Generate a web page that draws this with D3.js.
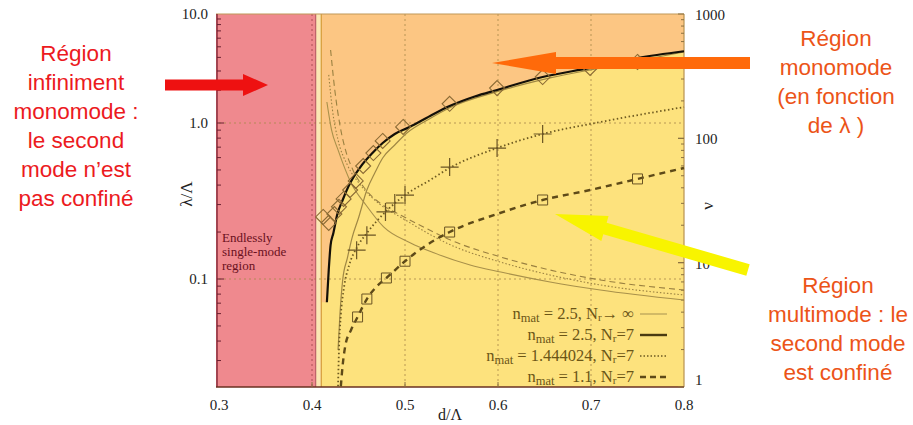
<!DOCTYPE html>
<html><head><meta charset="utf-8">
<script src="https://cdn.jsdelivr.net/npm/d3@7"></script>
<style>body{margin:0;background:#fff}svg{display:block}</style>
</head><body><svg id="c" width="913" height="425"></svg>
<script>
// ---------- data ----------
const xTicks = [0.3, 0.4, 0.5, 0.6, 0.7, 0.8];
const xTickLabels = ["0.3", "0.4", "0.5", "0.6", "0.7", "0.8"];
const yLeftTicks = [0.1, 1, 10];
const yLeftLabels = ["0.1", "1.0", "10.0"];
const yRightTicks = [1, 10, 100, 1000];
const yRightLabels = ["1", "10", "100", "1000"];

// n_mat = 2.5, Nr = 7 (thick black cut-off)
const blackD = [0.416, 0.418, 0.420, 0.423, 0.427, 0.433, 0.441, 0.452, 0.465, 0.476, 0.489, 0.505, 0.527, 0.548, 0.575, 0.599, 0.648, 0.699, 0.750, 0.800];
const blackL = [0.071, 0.114, 0.165, 0.197, 0.257, 0.321, 0.412, 0.522, 0.642, 0.744, 0.850, 0.943, 1.16, 1.43, 1.75, 2.01, 2.64, 3.20, 3.94, 4.55];
// n_mat = 2.5, Nr -> infinity (thin rising)
const infD = [0.428, 0.430, 0.433, 0.438, 0.443, 0.450, 0.459, 0.468, 0.476, 0.489, 0.502, 0.527, 0.548, 0.602, 0.656, 0.710, 0.800];
const infL = [0.035, 0.0588, 0.0986, 0.136, 0.183, 0.246, 0.372, 0.485, 0.597, 0.723, 0.863, 1.10, 1.38, 1.97, 2.59, 3.20, 4.48];
// n_mat = 1.444024, Nr = 7 (dotted)
const dotD = [0.428, 0.429, 0.431, 0.434, 0.440, 0.448, 0.459, 0.479, 0.500, 0.527, 0.548, 0.599, 0.648, 0.710, 0.800];
const dotL = [0.0205, 0.035, 0.0588, 0.085, 0.123, 0.158, 0.197, 0.269, 0.345, 0.431, 0.515, 0.691, 0.850, 1.02, 1.40];
// n_mat = 1.1, Nr = 7 (dashed)
const dashD = [0.431, 0.433, 0.436, 0.442, 0.449, 0.459, 0.469, 0.480, 0.500, 0.522, 0.548, 0.599, 0.648, 0.699, 0.750, 0.800];
const dashL = [0.0205, 0.0281, 0.0378, 0.0471, 0.0571, 0.0744, 0.0889, 0.1015, 0.130, 0.163, 0.200, 0.261, 0.321, 0.372, 0.438, 0.515];
// nu curves (right axis)
const nuSolidD = [0.416, 0.421, 0.428, 0.442, 0.458, 0.477, 0.506, 0.531, 0.570, 0.603, 0.656, 0.710, 0.800];
const nuSolidV = [196, 117, 80.7, 43.8, 29.1, 19.4, 14.4, 12.0, 9.58, 8.41, 7.0, 6.03, 5.01];
const nuDotD = [0.418, 0.422, 0.428, 0.438, 0.452, 0.474, 0.495, 0.549, 0.603, 0.656, 0.710, 0.800];
const nuDotV = [324, 169, 97, 61.1, 42.2, 29.1, 23.3, 13.9, 10.1, 7.96, 6.62, 5.50];
const nuDashD = [0.420, 0.4245, 0.430, 0.436, 0.444, 0.458, 0.479, 0.495, 0.522, 0.549, 0.603, 0.656, 0.710, 0.800];
const nuDashV = [514, 245, 128, 80.7, 55.7, 38.5, 28.1, 24.2, 19.0, 15.2, 11.1, 8.73, 7.26, 6.03];
// markers
const diamondD = [0.412, 0.418, 0.424, 0.429, 0.434, 0.441, 0.447, 0.455, 0.466, 0.476, 0.498, 0.548, 0.599, 0.648, 0.699, 0.750];
const diamondL = [0.250, 0.229, 0.261, 0.290, 0.326, 0.372, 0.425, 0.530, 0.642, 0.767, 0.943, 1.50, 2.09, 2.64, 3.20, 3.63];
const plusD = [0.448, 0.459, 0.479, 0.489, 0.500, 0.548, 0.599, 0.648];
const plusL = [0.153, 0.191, 0.269, 0.307, 0.345, 0.522, 0.691, 0.850];
const squareD = [0.449, 0.459, 0.480, 0.500, 0.548, 0.648, 0.750];
const squareL = [0.0571, 0.0744, 0.1015, 0.130, 0.200, 0.321, 0.438];

const legendLabels = [
  ["2.5", "r", "\u2192 \u221E"],
  ["2.5", "r", "=7"],
  ["1.444024", "r", "=7"],
  ["1.1", "r", "=7"]
];

// ---------- scales ----------
const svg = d3.select("#c");
const x = d3.scaleLinear().domain([0.3, 0.8]).range([219, 684]);
const yL = d3.scaleLog().domain([0.0203, 0.1, 1, 10]).range([387, 279, 123, 14]);
const yR = d3.scaleLog().domain([1, 1000]).range([387, 14]);
const yBot = 387, yTop = 14;
const serif = "'Liberation Serif','Times New Roman',serif";
const sans = "'Liberation Sans',Arial,sans-serif";

const zip = (a, b) => a.map((v, i) => [v, b[i]]);

// ---------- background regions ----------
svg.append("rect").attr("x", x(0.404)).attr("y", yTop).attr("width", x(0.8) - x(0.404)).attr("height", yBot - yTop).attr("fill", "#fbe6b4");
svg.append("rect").attr("x", x(0.41)).attr("y", yTop).attr("width", x(0.8) - x(0.41)).attr("height", yBot - yTop).attr("fill", "#fcc683");
const yellowData = [[0.41, blackL[0]]].concat(zip(blackD, blackL));
svg.append("path").datum(yellowData)
  .attr("d", d3.area().x(d => x(d[0])).y0(yBot).y1(d => yL(d[1])).curve(d3.curveMonotoneX))
  .attr("fill", "#fde27d");
svg.append("rect").attr("x", 216).attr("y", yTop).attr("width", x(0.404) - 216).attr("height", yBot - yTop).attr("fill", "#ef898e");

// grid
const gridC = "#a8884a";
[0.4, 0.5, 0.6, 0.7].forEach(v => {
  svg.append("line").attr("x1", x(v)).attr("x2", x(v)).attr("y1", yTop).attr("y2", yBot)
    .attr("stroke", v === 0.4 ? "#9a4048" : gridC).attr("stroke-width", 1).attr("stroke-dasharray", "2,3").attr("opacity", 0.8);
});
[0.1, 1].forEach(v => {
  svg.append("line").attr("x1", 219).attr("x2", x(0.8)).attr("y1", yL(v)).attr("y2", yL(v))
    .attr("stroke", gridC).attr("stroke-width", 1).attr("stroke-dasharray", "2,3").attr("opacity", 0.8);
});

// asymptote line
svg.append("line").attr("x1", x(0.41)).attr("x2", x(0.41)).attr("y1", yTop).attr("y2", yBot).attr("stroke", "#d8a040").attr("stroke-width", 1.3);
svg.append("line").attr("x1", x(0.404)).attr("x2", x(0.404)).attr("y1", yTop).attr("y2", yBot).attr("stroke", "#b0505a").attr("stroke-width", 1);

// frame
svg.append("line").attr("x1", 216).attr("x2", x(0.8)).attr("y1", yTop).attr("y2", yTop).attr("stroke", "#c09858").attr("stroke-width", 1.2);
svg.append("line").attr("x1", x(0.8)).attr("x2", x(0.8)).attr("y1", yTop).attr("y2", yBot).attr("stroke", "#b89250").attr("stroke-width", 1.2);
svg.append("line").attr("x1", 217).attr("x2", 217).attr("y1", yTop).attr("y2", yBot).attr("stroke", "#7a2030").attr("stroke-width", 1.3);
svg.append("line").attr("x1", 216).attr("x2", x(0.8)).attr("y1", yBot).attr("y2", yBot).attr("stroke", "#6a3020").attr("stroke-width", 1.3);

// minor ticks
const leftMinor = [];
[0.01, 0.1, 1].forEach(dec => { for (let k = 1; k <= 9; k++) { const v = dec * k; if (v >= 0.0203 && v <= 10) leftMinor.push(v); } });
svg.append("g").selectAll("line").data(leftMinor).join("line")
  .attr("x1", 217).attr("x2", d => yLeftTicks.includes(+d.toFixed(4)) ? 224 : 221)
  .attr("y1", d => yL(d)).attr("y2", d => yL(d)).attr("stroke", "#6a2030").attr("stroke-width", 1);
const rightMinor = [];
[1, 10, 100].forEach(dec => { for (let k = 1; k <= 10; k++) rightMinor.push(dec * k); });
svg.append("g").selectAll("line").data(rightMinor).join("line")
  .attr("x1", x(0.8)).attr("x2", d => [1, 10, 100, 1000].includes(d) ? x(0.8) - 6 : x(0.8) - 3)
  .attr("y1", d => yR(d)).attr("y2", d => yR(d)).attr("stroke", "#8a7040").attr("stroke-width", 1);
svg.append("g").selectAll("line").data(xTicks.slice(1, 5)).join("line")
  .attr("x1", d => x(d)).attr("x2", d => x(d)).attr("y1", yBot).attr("y2", yBot - 5).attr("stroke", "#8a7040");

// ---------- curves ----------
const lineL = d3.line().x(d => x(d[0])).y(d => yL(d[1])).curve(d3.curveMonotoneX);
const lineR = d3.line().x(d => x(d[0])).y(d => yR(d[1])).curve(d3.curveMonotoneX);

svg.append("path").datum(zip(nuSolidD, nuSolidV)).attr("d", lineR).attr("fill", "none").attr("stroke", "#a8904a").attr("stroke-width", 1.1);
svg.append("path").datum(zip(nuDotD, nuDotV)).attr("d", lineR).attr("fill", "none").attr("stroke", "#9a8040").attr("stroke-width", 1.1).attr("stroke-dasharray", "1.5,2");
svg.append("path").datum(zip(nuDashD, nuDashV)).attr("d", lineR).attr("fill", "none").attr("stroke", "#9a8040").attr("stroke-width", 1.1).attr("stroke-dasharray", "6,4");

svg.append("path").datum(zip(infD, infL)).attr("d", lineL).attr("fill", "none").attr("stroke", "#a08844").attr("stroke-width", 1.2);
svg.append("path").datum(zip(dotD, dotL)).attr("d", lineL).attr("fill", "none").attr("stroke", "#6e5a20").attr("stroke-width", 1.8).attr("stroke-dasharray", "1.5,2.5");
svg.append("path").datum(zip(dashD, dashL)).attr("d", lineL).attr("fill", "none").attr("stroke", "#5e4a18").attr("stroke-width", 2.4).attr("stroke-dasharray", "6,5");
svg.append("path").datum(zip(blackD, blackL)).attr("d", lineL).attr("fill", "none").attr("stroke", "#141008").attr("stroke-width", 2.2);

// markers
svg.append("g").selectAll("path").data(zip(diamondD, diamondL)).join("path")
  .attr("transform", d => `translate(${x(d[0])},${yL(d[1])})`)
  .attr("d", "M0,-7.5L7.5,0L0,7.5L-7.5,0Z").attr("fill", "none").attr("stroke", "#8a6a34").attr("stroke-width", 1.1);
svg.append("g").selectAll("path").data(zip(plusD, plusL)).join("path")
  .attr("transform", d => `translate(${x(d[0])},${yL(d[1])})`)
  .attr("d", "M-9,0H9M0,-9V9").attr("fill", "none").attr("stroke", "#6a5424").attr("stroke-width", 1.2);
svg.append("g").selectAll("path").data(zip(squareD, squareL)).join("path")
  .attr("transform", d => `translate(${x(d[0])},${yL(d[1])})`)
  .attr("d", "M-5,-5H5V5H-5Z").attr("fill", "none").attr("stroke", "#6a5424").attr("stroke-width", 1);

// ---------- axis labels ----------
svg.append("g").selectAll("text").data(xTicks).join("text")
  .attr("x", d => x(d)).attr("y", 410).attr("text-anchor", "middle")
  .attr("font-family", serif).attr("font-size", 15).attr("fill", "#222").text((d, i) => xTickLabels[i]);
svg.append("g").selectAll("text").data(yLeftTicks).join("text")
  .attr("x", 208).attr("y", d => yL(d) + 5).attr("text-anchor", "end")
  .attr("font-family", serif).attr("font-size", 15).attr("fill", "#222").text((d, i) => yLeftLabels[i]);
svg.append("g").selectAll("text").data(yRightTicks).join("text")
  .attr("x", 695).attr("y", (d, i) => yR(d) + (d === 1 ? -2 : 6)).attr("text-anchor", "start")
  .attr("font-family", serif).attr("font-size", 15).attr("fill", "#222").text((d, i) => yRightLabels[i]);
svg.append("text").attr("x", 450).attr("y", 420).attr("text-anchor", "middle").attr("font-family", serif).attr("font-size", 16).attr("fill", "#222").text("d/\u039B");
svg.append("text").attr("transform", "translate(192,194) rotate(-90)").attr("text-anchor", "middle").attr("font-family", serif).attr("font-size", 17).attr("fill", "#222").text("\u03BB/\u039B");
svg.append("text").attr("transform", "translate(713,206) rotate(-90)").attr("text-anchor", "middle").attr("font-family", serif).attr("font-size", 17).attr("fill", "#222").text("\u03BD");

// endlessly single-mode text
["Endlessly", "single-mode", "region"].forEach((t, i) => {
  svg.append("text").attr("x", 222).attr("y", 242 + i * 14).attr("font-family", serif).attr("font-size", 13).attr("fill", "#6a1020").text(t);
});

// legend
const legY = [319, 340, 361, 382];
const legX = 634;
legendLabels.forEach((lab, i) => {
  const t = svg.append("text").attr("x", legX).attr("y", legY[i]).attr("text-anchor", "end")
    .attr("font-family", serif).attr("font-size", 16.5).attr("fill", "#6b5516");
  t.append("tspan").text("n");
  t.append("tspan").attr("dy", 3).attr("font-size", 12.5).text("mat");
  t.append("tspan").attr("dy", -3).text(" = " + lab[0] + ", N");
  t.append("tspan").attr("dy", 2).attr("font-size", 11).text(lab[1]);
  t.append("tspan").attr("dy", -2).text(lab[2]);
  const ly = legY[i] - 5;
  const ln = svg.append("line").attr("x1", 640).attr("x2", 667).attr("y1", ly).attr("y2", ly).attr("fill", "none");
  if (i === 0) ln.attr("stroke", "#b09a55").attr("stroke-width", 1.1);
  if (i === 1) ln.attr("stroke", "#4a3a10").attr("stroke-width", 2.4);
  if (i === 2) ln.attr("stroke", "#6e5a20").attr("stroke-width", 1.6).attr("stroke-dasharray", "1.5,2");
  if (i === 3) ln.attr("stroke", "#5e4a18").attr("stroke-width", 2.4).attr("stroke-dasharray", "6,4");
});

// ---------- annotations ----------
function block(lines, cx, y0, color) {
  lines.forEach((t, i) => svg.append("text").attr("x", cx).attr("y", y0 + i * 29).attr("text-anchor", "middle")
    .attr("font-family", sans).attr("font-size", 22.5).attr("fill", color).text(t));
}
block(["Région", "infiniment", "monomode :", "le second", "mode n\u2019est", "pas confiné"], 76, 61, "#ec1a1e");
block(["Région", "monomode", "(en fonction", "de \u03BB )"], 836, 46, "#ec5418");
block(["Région", "multimode : le", "second mode", "est confiné"], 838, 293, "#ec5418");

function arrow(x0, y0, x1, y1, sw, hw, hl, color) {
  const dx = x1 - x0, dy = y1 - y0, L = Math.hypot(dx, dy);
  const ux = dx / L, uy = dy / L, nx = -uy, ny = ux;
  const bx = x1 - ux * hl, by = y1 - uy * hl;
  const pts = [
    [x0 + nx * sw, y0 + ny * sw], [bx + nx * sw, by + ny * sw], [bx + nx * hw, by + ny * hw], [x1, y1],
    [bx - nx * hw, by - ny * hw], [bx - nx * sw, by - ny * sw], [x0 - nx * sw, y0 - ny * sw]
  ];
  svg.append("path").attr("d", "M" + pts.map(p => p.join(",")).join("L") + "Z").attr("fill", color);
}
arrow(165, 85, 268, 85, 5.5, 11, 25, "#ee1111");
arrow(750, 63, 492, 63, 6, 11, 64, "#ff6a0a");
arrow(748, 270, 555, 214, 6, 13, 52, "#f8f400");
</script></body></html>
